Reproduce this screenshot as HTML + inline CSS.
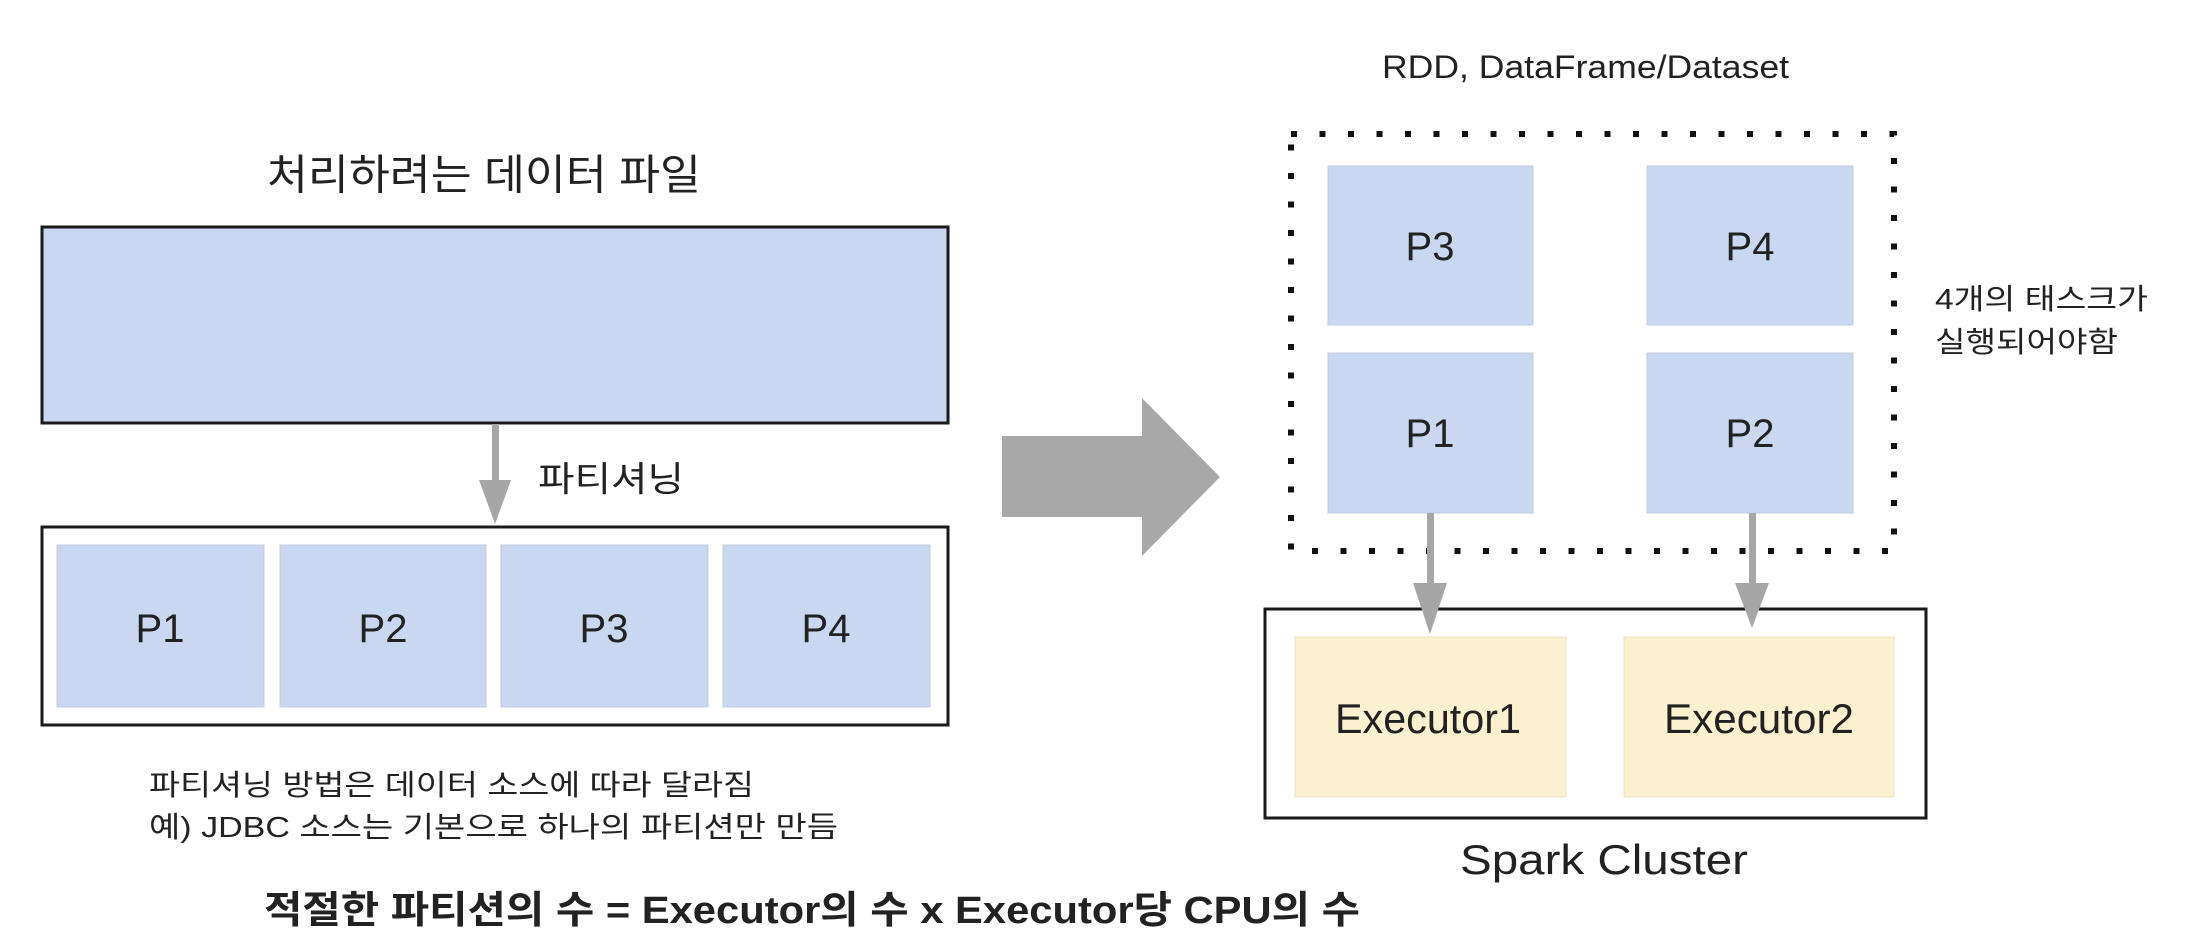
<!DOCTYPE html>
<html><head><meta charset="utf-8"><style>
html,body{margin:0;padding:0;background:#fff;}
svg{display:block;}
text{font-family:"Liberation Sans","Noto Sans CJK KR",sans-serif;fill:#222;}
</style></head><body>
<svg width="2206" height="946" viewBox="0 0 2206 946" xmlns="http://www.w3.org/2000/svg">
<text x="267" y="175" font-size="42" dominant-baseline="central" textLength="434" lengthAdjust="spacingAndGlyphs">처리하려는 데이터 파일</text>
<rect x="42" y="227" width="906" height="196" fill="#c9d7f1" stroke="#1a1a1a" stroke-width="3"/>
<rect x="492" y="424" width="7" height="58" fill="#a6a6a6"/>
<polygon points="479,480 511,480 495,524" fill="#a6a6a6"/>
<text x="538" y="480" font-size="35" dominant-baseline="central" textLength="146" lengthAdjust="spacingAndGlyphs">파티셔닝</text>
<rect x="42" y="527" width="906" height="198" fill="#fff" stroke="#1a1a1a" stroke-width="3"/>
<g fill="#c9d7f1" stroke="#c0cbe0" stroke-width="1">
<rect x="57" y="545" width="207" height="162"/>
<rect x="280" y="545" width="206" height="162"/>
<rect x="501" y="545" width="207" height="162"/>
<rect x="723" y="545" width="207" height="162"/>
</g>
<g font-size="40" text-anchor="middle">
<text x="160" y="642">P1</text>
<text x="383" y="642">P2</text>
<text x="604" y="642">P3</text>
<text x="826" y="642">P4</text>
</g>
<text x="149" y="786" font-size="29" dominant-baseline="central" textLength="605" lengthAdjust="spacingAndGlyphs" fill="#333">파티셔닝 방법은 데이터 소스에 따라 달라짐</text>
<text x="149" y="828" font-size="29" dominant-baseline="central" textLength="689" lengthAdjust="spacingAndGlyphs" fill="#333">예) JDBC 소스는 기본으로 하나의 파티션만 만듬</text>
<text x="264" y="911" font-size="38" font-weight="bold" dominant-baseline="central" textLength="1096" lengthAdjust="spacingAndGlyphs" fill="#111">적절한 파티션의 수 = Executor의 수 x Executor당 CPU의 수</text>
<polygon points="1002,436 1142,436 1142,398 1220,477 1142,556 1142,517 1002,517" fill="#a8a8a8"/>
<text x="1382" y="78" font-size="32" textLength="407" lengthAdjust="spacingAndGlyphs">RDD, DataFrame/Dataset</text>
<rect x="1291" y="134" width="603" height="417" fill="none" stroke="#111" stroke-width="6" stroke-dasharray="6 22.5"/>
<g fill="#c9d7f1" stroke="#c0cbe0" stroke-width="1">
<rect x="1328" y="166" width="205" height="159"/>
<rect x="1647" y="166" width="206" height="159"/>
<rect x="1328" y="353" width="205" height="160"/>
<rect x="1647" y="353" width="206" height="160"/>
</g>
<g font-size="40" text-anchor="middle">
<text x="1430" y="260">P3</text>
<text x="1750" y="260">P4</text>
<text x="1430" y="447">P1</text>
<text x="1750" y="447">P2</text>
</g>
<text x="1935" y="300" font-size="29" dominant-baseline="central" textLength="213" lengthAdjust="spacingAndGlyphs" fill="#333">4개의 태스크가</text>
<text x="1935" y="343" font-size="29" dominant-baseline="central" textLength="183" lengthAdjust="spacingAndGlyphs" fill="#333">실행되어야함</text>
<rect x="1427" y="513" width="7" height="72" fill="#a6a6a6"/>
<rect x="1749" y="513" width="7" height="72" fill="#a6a6a6"/>
<rect x="1265" y="609" width="661" height="209" fill="none" stroke="#1a1a1a" stroke-width="3"/>
<polygon points="1413,583 1447,583 1430,634" fill="#a6a6a6"/>
<polygon points="1735,583 1769,583 1752,628" fill="#a6a6a6"/>
<g fill="#fbf0d0" stroke="#ece2c4" stroke-width="1">
<rect x="1295" y="637" width="271" height="160"/>
<rect x="1624" y="637" width="270" height="160"/>
</g>
<text x="1335" y="733" font-size="42" textLength="186" lengthAdjust="spacingAndGlyphs">Executor1</text>
<text x="1664" y="733" font-size="42" textLength="190" lengthAdjust="spacingAndGlyphs">Executor2</text>
<text x="1460" y="874" font-size="42" textLength="288" lengthAdjust="spacingAndGlyphs">Spark Cluster</text>
</svg>
</body></html>
